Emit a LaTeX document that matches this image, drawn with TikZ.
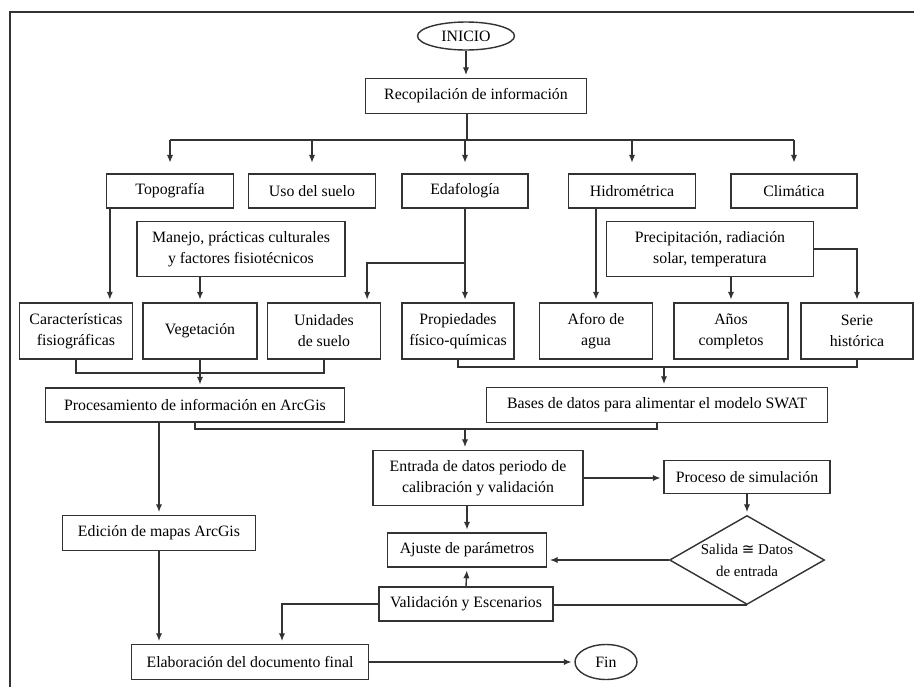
\documentclass[tikz,border=0pt]{standalone}
\usepackage{fontspec}
\setmainfont{Liberation Serif}
\newfontfamily\simbolo{DejaVu Sans}
\usetikzlibrary{positioning}
\usetikzlibrary{shapes.geometric, arrows.meta}

\begin{document}
\begin{tikzpicture}[x=0.02cm,y=-0.02cm,
caja/.style={rectangle,draw=black!80,line width=0.8pt,font=\fontsize{9}{12}\selectfont,align=center,inner sep=1pt},
flecha/.style={draw=black!80,line width=0.8pt,-{Latex[length=4.5pt,width=3.6pt]},shorten >=1.5pt},
linea/.style={draw=black!80,line width=0.8pt}]
\useasboundingbox (0,0) rectangle (914,687);
\draw[linea] (10,687) -- (10,12) -- (914,12);

\node[caja,ellipse,minimum width=1.94cm,minimum height=0.56cm] (inicio) at (466,36) {INICIO};
\node[caja,minimum width=4.42cm,minimum height=0.70cm] (recop) at (476,96) {Recopilación de información};

\node[caja,minimum width=2.54cm,minimum height=0.68cm] (topo) at (170,191) {Topografía};
\node[caja,minimum width=2.54cm,minimum height=0.68cm] (uso) at (312,191) {Uso del suelo};
\node[caja,minimum width=2.52cm,minimum height=0.68cm] (edaf) at (465,191) {Edafología};
\node[caja,minimum width=2.54cm,minimum height=0.68cm] (hidro) at (632,191) {Hidrométrica};
\node[caja,minimum width=2.52cm,minimum height=0.68cm] (clima) at (794,191) {Climática};

\node[caja,minimum width=4.16cm,minimum height=1.10cm] (manejo) at (241,249) {Manejo, prácticas culturales\\y factores fisiotécnicos};
\node[caja,minimum width=4.14cm,minimum height=1.10cm] (precip) at (710,249) {Precipitación, radiación\\solar, temperatura};

\node[caja,minimum width=2.26cm,minimum height=1.12cm] (caract) at (76,331) {Características\\fisiográficas};
\node[caja,minimum width=2.28cm,minimum height=1.12cm] (veget) at (200,331) {Vegetación};
\node[caja,minimum width=2.26cm,minimum height=1.12cm] (unid) at (324,331) {Unidades\\de suelo};
\node[caja,minimum width=2.24cm,minimum height=1.12cm] (propied) at (458,331) {Propiedades\\físico-químicas};
\node[caja,minimum width=2.26cm,minimum height=1.12cm] (aforo) at (596,331) {Aforo de\\agua};
\node[caja,minimum width=2.28cm,minimum height=1.12cm] (anos) at (731,331) {Años\\completos};
\node[caja,minimum width=2.24cm,minimum height=1.12cm] (serie) at (857,331) {Serie\\histórica};

\node[caja,minimum width=5.98cm,minimum height=0.68cm] (proces) at (195,405) {Procesamiento de información en ArcGis};
\node[caja,minimum width=6.82cm,minimum height=0.70cm] (bases) at (657,405) {Bases de datos para alimentar el modelo SWAT};

\node[caja,minimum width=4.20cm,minimum height=1.10cm] (entrada) at (478,478) {Entrada de datos periodo de\\calibración y validación};
\node[caja,minimum width=3.32cm,minimum height=0.66cm] (proceso) at (747,477) {Proceso de simulación};
\node[caja,minimum width=3.86cm,minimum height=0.70cm] (edicion) at (159,533) {Edición de mapas ArcGis};
\node[caja,minimum width=3.18cm,minimum height=0.68cm] (ajuste) at (467,550) {Ajuste de parámetros};
\node[caja,diamond,aspect=1.7,inner sep=0pt,minimum width=3.10cm,minimum height=1.78cm,font=\fontsize{8.5}{12.5}\selectfont] (salida) at (747,560) {Salida {\simbolo ≅} Datos\\de entrada};
\node[caja,minimum width=3.48cm,minimum height=0.68cm] (valid) at (466,604) {Validación y Escenarios};
\node[caja,minimum width=4.74cm,minimum height=0.70cm] (elab) at (250,662) {Elaboración del documento final};
\node[caja,ellipse,minimum width=1.24cm,minimum height=0.70cm] (fin) at (606,662) {Fin};

\draw[flecha] (inicio.south) -- (inicio.south |- recop.north);
\coordinate (rama) at (467,140);
\draw[linea] (recop.south -| rama) -- (rama);
\draw[linea] (rama -| topo) -- (rama -| clima);
\foreach \n in {topo,uso,edaf,hidro,clima}
  \draw[flecha,shorten >=6pt] (rama -| \n.north) -- (\n.north);

\draw[flecha] ([xshift=0.08cm]topo.south west) -- ([xshift=0.08cm]topo.south west |- caract.north);
\draw[flecha] (manejo.south -| veget.north) -- (veget.north);
\draw[flecha] (edaf.south) -- (edaf.south |- propied.north);
\coordinate (codo) at (465,263);
\draw[flecha] (codo) -| ([xshift=-0.28cm]unid.north east);
\draw[flecha] (hidro.south -| aforo.north) -- (aforo.north);
\draw[flecha] (precip.south -| anos.north) -- (anos.north);
\draw[flecha] (precip.east) -| (serie.north);

\coordinate (unionA) at (200,373);
\draw[linea] (caract.south) |- (unionA) -| (unid.south);
\draw[flecha] (veget.south) -- (veget.south |- proces.north);
\coordinate (unionB) at (664,367);
\draw[linea] (propied.south) |- (unionB) -| (serie.south);
\draw[flecha] (unionB) -- (unionB |- bases.north);

\coordinate (unionC) at (465,429);
\draw[linea] (proces.south) |- (unionC);
\draw[linea] (bases.south) |- (unionC);
\draw[flecha] (unionC) -- (unionC |- entrada.north);
\draw[flecha] (proces.south -| edicion.north) -- (edicion.north);

\draw[flecha] (entrada.south -| ajuste.north) -- (ajuste.north);
\draw[flecha] (entrada.east) -- (entrada.east -| proceso.west);
\draw[flecha] (proceso.south) -- (salida.north);
\draw[flecha] (salida.west) -- (salida.west -| ajuste.east);
\draw[linea] (salida.south) -- (salida.south -| valid.east);
\draw[flecha] (valid.north) -- (ajuste.south);

\draw[flecha] (edicion.south) -- (edicion.south |- elab.north);
\draw[flecha] (valid.west) -| ([xshift=0.64cm]elab.north);
\draw[flecha] (elab.east) -- (fin.west);

\end{tikzpicture}
\end{document}
